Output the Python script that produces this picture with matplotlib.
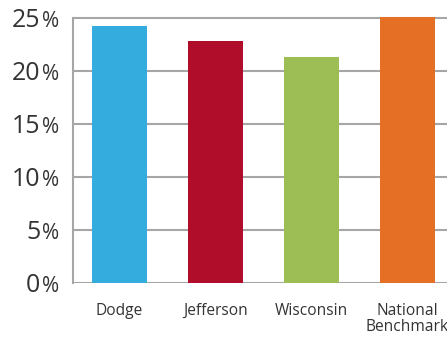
import matplotlib
matplotlib.use("Agg")
from matplotlib import pyplot as plt
import matplotlib.transforms as mtransforms

categories = ["Dodge", "Jefferson", "Wisconsin", "National\nBenchmark"]
values = [24.25, 22.8, 21.3, 25.1]
colors = ["#34ACDE", "#B00D2B", "#9DBE55", "#E57025"]
yticks = [0, 5, 10, 15, 20, 25]

plt.rcParams['font.family'] = ['Open Sans', 'DejaVu Sans']
text_color = "#333333"
grid_color = "#A6A6A6"

fig = plt.figure(figsize=(4.47, 3.41), dpi=100)
# axes runs past the right edge of the figure, like the original crop
ax = fig.add_axes([73 / 447, 58 / 341, 392 / 447, 270.3 / 341])

x = list(range(len(categories)))
ax.bar(x, values, width=0.573, color=colors, zorder=3)

ax.set_xlim(-0.484, 3.6)
ax.set_ylim(0, 25.5)

# gridlines
for t in yticks:
    ax.axhline(t, color=grid_color, linewidth=1.5, zorder=1)

for s in ["top", "right", "bottom"]:
    ax.spines[s].set_visible(False)
ax.spines["left"].set_color(grid_color)
ax.spines["left"].set_linewidth(1.5)
ax.spines["left"].set_bounds(0, 25)

ax.set_yticks([])
ax.set_xticks([])

# y tick labels: big number, smaller percent sign on the same baseline
trans = mtransforms.blended_transform_factory(ax.transAxes, ax.transData)
off_num = mtransforms.offset_copy(trans, fig=fig, x=-23.5, y=-6.3, units='points')
off_pct = mtransforms.offset_copy(trans, fig=fig, x=-10.3, y=-6.3, units='points')
for t in yticks:
    ax.text(0, t, str(t), transform=off_num, ha="right", va="baseline",
            fontsize=17.9, color=text_color)
    ax.text(0, t, "%", transform=off_pct, ha="right", va="baseline",
            fontsize=15, color=text_color)

# category labels
trans_x = mtransforms.blended_transform_factory(ax.transData, ax.transAxes)
for xi, lab in zip(x, categories):
    ax.text(xi, -0.075, lab, transform=trans_x, ha="center", va="top",
            fontsize=11.2, color=text_color, linespacing=1.0)

fig.savefig("out.png", dpi=100)
